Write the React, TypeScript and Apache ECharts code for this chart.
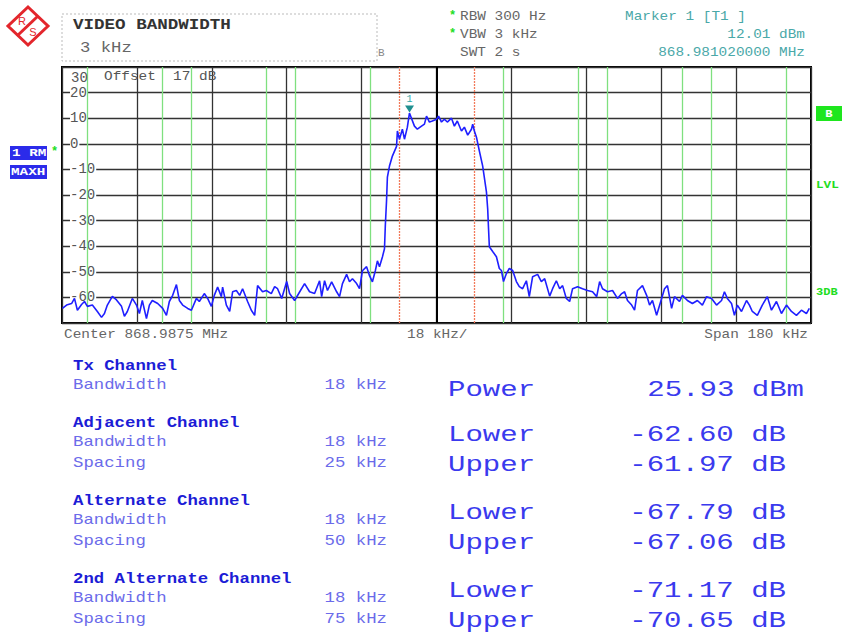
import React, { useEffect, useRef } from "react";
import * as echarts from "echarts";

// ---- Trace data (frequency offset from center in kHz, level in dBm) ----
const freqOffsetKHz = [
  -89.9, -88.9, -87.7, -87.0, -86.3, -85.3, -84.6, -83.9, -82.7, -81.5, -80.5, -79.8, -79.1, -77.9, -76.9,
  -75.7, -75.0, -74.3, -73.1, -72.1, -71.4, -70.7, -69.7, -69.0, -68.3, -67.0, -65.8, -64.9, -64.2, -63.4,
  -62.5, -61.8, -61.0, -59.8, -58.9, -57.7, -57.0, -55.8, -55.0, -54.1, -53.4, -52.6, -51.7, -51.4, -50.5,
  -49.7, -49.0, -48.1, -47.3, -46.6, -45.4, -44.5, -43.7, -43.0, -41.8, -40.9, -39.7, -38.9, -38.2, -37.2,
  -36.0, -35.3, -34.1, -32.9, -31.7, -30.5, -29.3, -28.1, -27.6, -26.9, -26.2, -25.2, -24.0, -23.3, -22.6,
  -21.6, -20.9, -20.2, -19.2, -18.5, -17.8, -16.8, -16.1, -15.4, -14.7, -14.2, -13.7, -13.0, -12.5, -12.3,
  -12.0, -11.8, -11.3, -10.6, -9.6, -9.4, -8.9, -8.2, -7.7, -7.0, -6.5, -5.3, -4.6, -3.6, -2.9,
  -2.4, -1.7, -1.0, 0.0, 0.5, 1.2, 1.9, 2.6, 3.6, 4.3, 5.0, 6.0, 6.7, 7.5, 8.4,
  8.7, 9.1, 9.6, 10.3, 11.1, 12.0, 12.3, 12.5, 12.7, 13.5, 14.4, 15.1, 15.6, 16.1, 16.8,
  17.5, 18.3, 19.2, 19.9, 20.7, 21.6, 22.3, 23.1, 24.3, 25.2, 26.0, 27.2, 27.9, 28.8, 29.6,
  30.3, 31.2, 32.0, 32.7, 33.9, 35.1, 36.3, 37.5, 38.5, 39.2, 39.9, 41.1, 42.3, 43.5, 44.5,
  45.2, 45.9, 46.9, 47.6, 48.3, 49.5, 50.5, 51.2, 51.9, 52.9, 54.1, 54.8, 55.5, 56.5, 57.2,
  58.4, 59.1, 60.3, 61.5, 62.7, 63.9, 64.9, 66.1, 67.3, 68.5, 69.2, 69.9, 70.9, 71.6, 72.3,
  73.3, 74.5, 75.2, 75.9, 77.1, 78.3, 79.5, 80.5, 81.7, 82.9, 84.1, 85.3, 86.5, 87.7, 88.9, 89.6,
];
const levelDbm = [
  -64.3, -63.0, -62.4, -60.4, -65.0, -62.8, -61.6, -63.5, -63.0, -65.5, -67.8, -66.3, -63.0, -59.6, -61.0,
  -63.5, -67.4, -65.5, -60.4, -63.0, -66.3, -61.2, -68.3, -63.0, -61.2, -62.4, -64.3, -67.0, -61.6, -59.2,
  -55.0, -61.2, -63.0, -64.3, -65.0, -60.4, -61.6, -58.5, -60.4, -63.5, -59.2, -56.0, -59.7, -56.0, -63.0,
  -65.5, -57.8, -57.3, -59.2, -56.6, -61.6, -65.0, -67.0, -55.4, -57.8, -57.3, -58.5, -55.8, -56.6, -60.4,
  -53.8, -58.5, -61.2, -57.9, -54.6, -57.8, -58.5, -53.5, -59.7, -53.5, -57.3, -53.9, -57.8, -59.7, -54.6,
  -51.0, -53.9, -52.7, -54.6, -56.6, -49.6, -48.0, -51.5, -53.9, -49.6, -45.7, -48.0, -44.2, -41.0, -32.0,
  -22.0, -13.0, -8.7, -4.8, -1.0, 5.0, 1.8, 5.7, 1.8, 6.5, 12.01, 6.9, 5.7, 6.9, 7.7,
  10.8, 8.5, 8.9, 9.6, 10.8, 8.5, 9.6, 8.5, 10.0, 6.9, 8.9, 5.0, 6.5, 3.4, 5.7,
  7.7, 5.0, 2.6, -2.8, -8.7, -18.8, -25.4, -33.0, -40.2, -42.1, -44.1, -48.7, -49.5, -53.8, -50.7,
  -48.7, -49.5, -53.8, -55.8, -56.6, -53.5, -59.7, -51.9, -51.0, -53.8, -52.7, -59.5, -56.6, -53.5, -56.6,
  -55.4, -60.4, -61.6, -56.6, -55.8, -56.6, -57.3, -57.8, -59.7, -53.8, -56.6, -57.8, -57.3, -60.4, -58.5,
  -57.8, -61.2, -63.0, -65.0, -57.3, -55.4, -59.2, -63.0, -61.2, -67.0, -60.4, -56.6, -55.4, -64.3, -59.7,
  -61.6, -59.2, -61.2, -62.4, -61.2, -63.0, -59.7, -60.4, -63.0, -61.2, -57.8, -60.4, -62.4, -67.0, -63.0,
  -65.5, -61.2, -63.0, -65.5, -67.0, -63.0, -59.7, -65.0, -61.6, -66.3, -63.0, -65.5, -67.0, -65.0, -66.3, -64.3,
];

// channel limit lines (kHz offset from center)
const txChannelEdgesKHz = [-9, 9];
const otherChannelEdgesKHz = [-84, -66, -59, -41, -34, -16, 16, 34, 41, 59, 66, 84];
const markerFreqKHz = -6.48;
const markerLevelDbm = 12.01;

// axis
const spanMinKHz = -90;
const spanMaxKHz = 90;
const divKHz = 18;
const refTopDbm = 30;
const bottomDbm = -70;
const divDb = 10;

// header texts
const headerLeft = ["VIDEO BANDWIDTH", "3 kHz"];
const sweepSettings = ["RBW 300 Hz", "VBW 3 kHz", "SWT 2 s"];
const markerInfo = ["Marker 1 [T1 ]", "12.01 dBm", "868.981020000 MHz"];
const footer = ["Center 868.9875 MHz", "18 kHz/", "Span 180 kHz"];

// table
const channelNames = ["Tx Channel", "Adjacent Channel", "Alternate Channel", "2nd Alternate Channel"];
const channelBandwidths = ["18 kHz", "18 kHz", "18 kHz", "18 kHz"];
const channelSpacings = ["", "25 kHz", "50 kHz", "75 kHz"];
const txPower = "25.93 dBm";
const lowerValues = ["-62.60 dB", "-67.79 dB", "-71.17 dB"];
const upperValues = ["-61.97 dB", "-67.06 dB", "-70.65 dB"];

const MONO = '"Liberation Mono", "DejaVu Sans Mono", monospace';

function txt(
  text: string,
  x: number,
  y: number,
  size: number,
  color: string,
  opts: { bold?: boolean; align?: string; sx?: number } = {}
) {
  const align = opts.align || "left";
  return {
    type: "text",
    x,
    y,
    scaleX: opts.sx ?? 1.2,
    silent: true,
    z: 100,
    style: {
      text,
      x: 0,
      y: 0,
      fill: color,
      fontSize: size,
      fontFamily: MONO,
      fontWeight: opts.bold ? "bold" : "normal",
      align,
      textAlign: align,
      verticalAlign: "middle",
      textVerticalAlign: "middle",
    },
  };
}

export default function App() {
  const ref = useRef<HTMLDivElement>(null);

  useEffect(() => {
    if (!ref.current) return;
    const chart = echarts.init(ref.current, null, { renderer: "svg" });

    const gray = "#666";
    const teal = "#4aa8a8";
    const hdrBlue = "#1c1cd6";
    const lblBlue = "#6b6bea";
    const bigBlue = "#3a3aee";
    const green = "#22dd22";

    const graphics: any[] = [];
    // R&S logo
    graphics.push({
      type: "polygon",
      silent: true,
      shape: { points: [[28, 7], [48, 26], [28, 45], [8, 26]] },
      style: { fill: "#fff", stroke: "#e3262c", lineWidth: 3 },
    });
    graphics.push({
      type: "line",
      silent: true,
      shape: { x1: 17, y1: 36, x2: 38, y2: 16 },
      style: { stroke: "#e3262c", lineWidth: 3 },
    });
    graphics.push({
      type: "text", x: 22, y: 21, silent: true,
      style: { text: "R", fill: "#e3262c", fontSize: 11, fontFamily: "Liberation Sans", align: "center", verticalAlign: "middle", textAlign: "center", textVerticalAlign: "middle" },
    });
    graphics.push({
      type: "text", x: 33, y: 32, silent: true,
      style: { text: "S", fill: "#e3262c", fontSize: 11, fontFamily: "Liberation Sans", align: "center", verticalAlign: "middle", textAlign: "center", textVerticalAlign: "middle" },
    });

    // title box
    graphics.push({
      type: "rect",
      silent: true,
      shape: { x: 62, y: 14, width: 315, height: 47 },
      style: { fill: "none", stroke: "#bbb", lineWidth: 1, lineDash: [2, 2] },
    });
    graphics.push(txt(headerLeft[0], 73, 25, 15, "#333", { bold: true, sx: 1.17 }));
    graphics.push(txt(headerLeft[1], 80, 48, 15, gray, { sx: 1.15 }));
    graphics.push(txt("B", 378, 53, 11, "#888", { sx: 1 }));

    // sweep settings
    sweepSettings.forEach((s, i) => {
      graphics.push(txt(s, 460, 17 + i * 18, 12, gray));
    });
    graphics.push(txt("*", 449, 16, 12, green, { bold: true, sx: 1 }));
    graphics.push(txt("*", 449, 34, 12, green, { bold: true, sx: 1 }));

    // marker info
    graphics.push(txt(markerInfo[0], 625, 17, 12, teal));
    graphics.push(txt(markerInfo[1], 805, 35, 12, teal, { align: "right" }));
    graphics.push(txt(markerInfo[2], 805, 53, 12, teal, { align: "right" }));

    // inside plot
    graphics.push(txt("30", 71, 78, 14, "#555", { sx: 1 }));
    graphics.push(txt("Offset  17 dB", 104, 77, 12, "#555"));

    // left trace badges
    graphics.push({ type: "rect", silent: true, shape: { x: 10, y: 146, width: 37, height: 14 }, style: { fill: "#2b2bea" } });
    graphics.push({ type: "rect", silent: true, shape: { x: 10, y: 165, width: 37, height: 14 }, style: { fill: "#2b2bea" } });
    graphics.push(txt("1 RM", 12, 153, 11, "#fff", { bold: true, sx: 1.3 }));
    graphics.push(txt("MAXH", 11, 172, 11, "#fff", { bold: true, sx: 1.3 }));
    graphics.push(txt("*", 51, 152, 12, green, { bold: true, sx: 1 }));

    // right badges
    graphics.push({ type: "rect", silent: true, shape: { x: 816, y: 106, width: 26, height: 15 }, style: { fill: "#1ee61e" } });
    graphics.push(txt("B", 829, 113.5, 11, "#fff", { bold: true, align: "center", sx: 1.1 }));
    graphics.push(txt("LVL", 816, 185, 11, green, { bold: true, sx: 1.15 }));
    graphics.push(txt("3DB", 816, 292, 10, green, { bold: true, sx: 1.2 }));

    // footer
    graphics.push(txt(footer[0], 64, 335, 12, gray));
    graphics.push(txt(footer[1], 407, 335, 12, gray));
    graphics.push(txt(footer[2], 808, 335, 12, gray, { align: "right" }));

    // table
    const headerYs = [366, 423, 501, 579];
    channelNames.forEach((name, i) => {
      const y0 = headerYs[i];
      graphics.push(txt(name, 73, y0, 14, hdrBlue, { bold: true, sx: 1.24 }));
      graphics.push(txt("Bandwidth", 73, y0 + 19.5, 14, lblBlue, { sx: 1.24 }));
      graphics.push(txt(channelBandwidths[i], 387, y0 + 19.5, 14, lblBlue, { align: "right", sx: 1.24 }));
      if (channelSpacings[i]) {
        graphics.push(txt("Spacing", 73, y0 + 40, 14, lblBlue, { sx: 1.24 }));
        graphics.push(txt(channelSpacings[i], 387, y0 + 40, 14, lblBlue, { align: "right", sx: 1.24 }));
      }
    });
    graphics.push(txt("Power", 448, 390, 22, bigBlue, { sx: 1.32 }));
    graphics.push(txt(txPower, 804, 390, 22, bigBlue, { align: "right", sx: 1.32 }));
    const lowerYs = [435, 513, 591];
    lowerValues.forEach((v, i) => {
      graphics.push(txt("Lower", 448, lowerYs[i], 22, bigBlue, { sx: 1.32 }));
      graphics.push(txt(v, 786, lowerYs[i], 22, bigBlue, { align: "right", sx: 1.32 }));
      graphics.push(txt("Upper", 448, lowerYs[i] + 30, 22, bigBlue, { sx: 1.32 }));
      graphics.push(txt(upperValues[i], 786, lowerYs[i] + 30, 22, bigBlue, { align: "right", sx: 1.32 }));
    });

    const traceData = freqOffsetKHz.map((f, i) => [f, levelDbm[i]]);

    const markLineData: any[] = [
      { xAxis: 0, lineStyle: { color: "#000", width: 2, type: "solid" } },
      ...txChannelEdgesKHz.map((f) => ({ xAxis: f, lineStyle: { color: "#f27a5a", width: 1.3, type: [2, 1] } })),
      ...otherChannelEdgesKHz.map((f) => ({ xAxis: f, lineStyle: { color: "#7fe07f", width: 1.3, type: "solid" } })),
    ];

    chart.setOption({
      animation: false,
      backgroundColor: "#fff",
      grid: {
        left: 62,
        top: 67,
        width: 749,
        height: 256,
        show: true,
        borderColor: "#000",
        borderWidth: 2,
        backgroundColor: "transparent",
      },
      xAxis: {
        type: "value",
        min: spanMinKHz,
        max: spanMaxKHz,
        interval: divKHz,
        axisLine: { show: false },
        axisTick: { show: false },
        axisLabel: { show: false },
        splitLine: { show: true, lineStyle: { color: "#333", width: 1.3 } },
      },
      yAxis: {
        type: "value",
        min: bottomDbm,
        max: refTopDbm,
        interval: divDb,
        axisLine: { show: false },
        axisTick: { show: false },
        splitLine: { show: true, lineStyle: { color: "#333", width: 1.3 } },
        axisLabel: {
          inside: true,
          margin: 8,
          showMaxLabel: false,
          showMinLabel: false,
          color: "#555",
          fontFamily: MONO,
          fontSize: 14,
          backgroundColor: "#fff",
          padding: [0, 1, 0, 0],
        },
      },
      series: [
        {
          type: "line",
          data: traceData,
          showSymbol: false,
          silent: true,
          z: 5,
          lineStyle: { color: "#1f1fff", width: 1.6 },
          markLine: {
            silent: true,
            symbol: "none",
            label: { show: false },
            z: 3,
            data: markLineData,
          },
          markPoint: {
            silent: true,
            symbol: "triangle",
            symbolRotate: 180,
            symbolSize: [9, 7],
            symbolOffset: [0, -4],
            itemStyle: { color: "#1f8f8f" },
            label: {
              show: true,
              position: "top",
              distance: 1,
              formatter: "1",
              color: "#3aa",
              fontSize: 10,
              fontFamily: MONO,
            },
            data: [{ coord: [markerFreqKHz, markerLevelDbm] }],
          },
        },
      ],
      graphic: graphics,
    });

    return () => chart.dispose();
  }, []);

  return (
    <div
      ref={ref}
      style={{ position: "fixed", left: 0, top: 0, width: 844, height: 632, background: "#fff" }}
    />
  );
}
